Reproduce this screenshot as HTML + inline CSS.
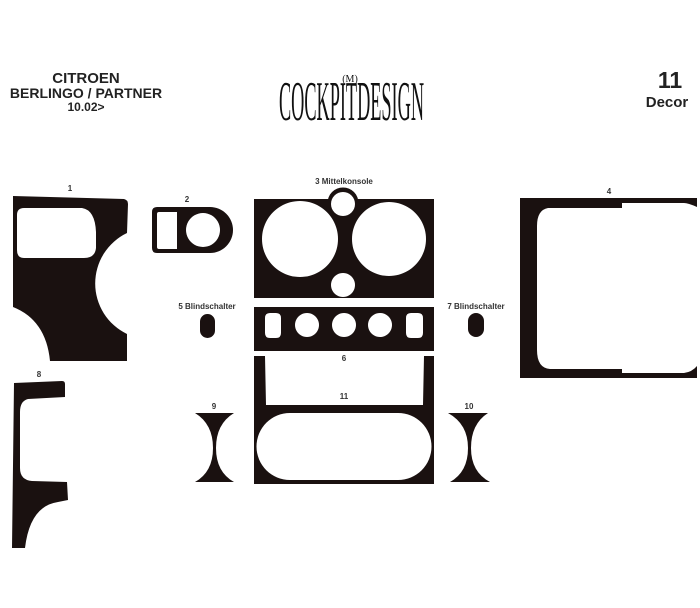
<!DOCTYPE html><html><head><style>body{margin:0;background:#fff}svg{display:block}</style></head><body>
<svg width="700" height="608" viewBox="0 0 700 608" xmlns="http://www.w3.org/2000/svg">
<g font-family="Liberation Sans, sans-serif" font-weight="bold" fill="#222" text-anchor="middle">
<text x="86" y="83" font-size="15">CITROEN</text>
<text x="86" y="98" font-size="14">BERLINGO / PARTNER</text>
<text x="86" y="111" font-size="12">10.02&gt;</text>
<text x="670" y="88" font-size="23">11</text>
<text x="667" y="107" font-size="15">Decor</text>
<g font-size="8" fill="#333">
<text x="70" y="191">1</text><text x="187" y="202">2</text><text x="344" y="184">3 Mittelkonsole</text>
<text x="609" y="194">4</text><text x="207" y="309">5 Blindschalter</text><text x="476" y="309">7 Blindschalter</text>
<text x="344" y="361">6</text><text x="39" y="377">8</text><text x="214" y="409">9</text><text x="344" y="399">11</text><text x="469" y="409">10</text>
</g></g>
<text x="279" y="120" font-family="Liberation Serif, serif" font-size="56" textLength="145" lengthAdjust="spacingAndGlyphs" fill="#111">COCKPITDESIGN</text>
<text x="350" y="82" font-family="Liberation Serif, serif" font-size="10" text-anchor="middle" fill="#111">(M)</text>
<g fill="#1a1110" fill-rule="evenodd">
<!-- 1 -->
<path d="M13 196 L124 199 Q128 200 128 204 L127 233 A56 56 0 0 0 127 334 L127 361 L50 361 Q46 320 13 307 Z M24 208 L82 208 Q95 210 96 232 L96 248 Q95 258 84 258 L24 258 Q17 258 17 250 L17 215 Q17 208 24 208 Z"/>
<!-- 2 -->
<path d="M157 207 L210 207 A23 23 0 0 1 210 253 L157 253 Q152 253 152 248 L152 212 Q152 207 157 207 Z M159 212 L177 212 L177 249 L159 249 Q157 249 157 247 L157 214 Q157 212 159 212 Z M203 213 A17 17 0 1 0 203.01 213 Z"/>
<!-- 3 -->
<circle cx="343" cy="203" r="15.5"/>
<path d="M254 199 L434 199 L434 298 L254 298 Z M300 201 A38 38 0 1 0 300.01 201 Z M389 202 A37 37 0 1 0 389.01 202 Z M343 273 A12 12 0 1 0 343.01 273 Z"/>
<circle cx="343" cy="204" r="12" fill="#fff"/>
<!-- 6 -->
<path d="M254 307 L434 307 L434 351 L254 351 Z M270 313 L276 313 Q281 313 281 318 L281 333 Q281 338 276 338 L270 338 Q265 338 265 333 L265 318 Q265 313 270 313 Z M307 313 A12 12 0 1 0 307.01 313 Z M344 313 A12 12 0 1 0 344.01 313 Z M380 313 A12 12 0 1 0 380.01 313 Z M411 313 L418 313 Q423 313 423 318 L423 333 Q423 338 418 338 L411 338 Q406 338 406 333 L406 318 Q406 313 411 313 Z"/>
<!-- 11 -->
<path d="M254 356 L265 356 L266 405 L423 405 L424 356 L434 356 L434 484 L254 484 Z M290 413 L398 413 A33 33 0 0 1 398 480 L290 480 A33 33 0 0 1 290 413 Z"/>
<!-- 4 -->
<path d="M520 198 L697 198 L697 207 Q688 203 684 203 L622 203 L622 208 L548 208 Q537 210 537 226 L537 350 Q537 368 550 369 L622 369 L622 373 L684 373 Q692 372 697 366 L697 378 L520 378 Z"/>
<!-- 8 -->
<path d="M14 383 L62 381 Q65 381 65 384 L65 397 L28 399 Q20 401 20 412 L20 468 Q20 480 32 481 L67 482 L68 500 L58 502 Q30 506 25 548 L12 548 Z"/>
<!-- 9 -->
<path d="M195 413 L234 413 Q216 424 216 448 Q216 472 234 482 L195 482 Q213 472 213 448 Q213 424 195 413 Z"/>
<!-- 10 -->
<path d="M448 413 L488 413 Q471 424 471 448 Q471 472 490 482 L450 482 Q468 472 468 448 Q468 424 448 413 Z"/>
<rect x="200" y="314" width="15" height="24" rx="7.5"/>
<rect x="468" y="313" width="16" height="24" rx="8"/>
</g>
</svg>
</body></html>
